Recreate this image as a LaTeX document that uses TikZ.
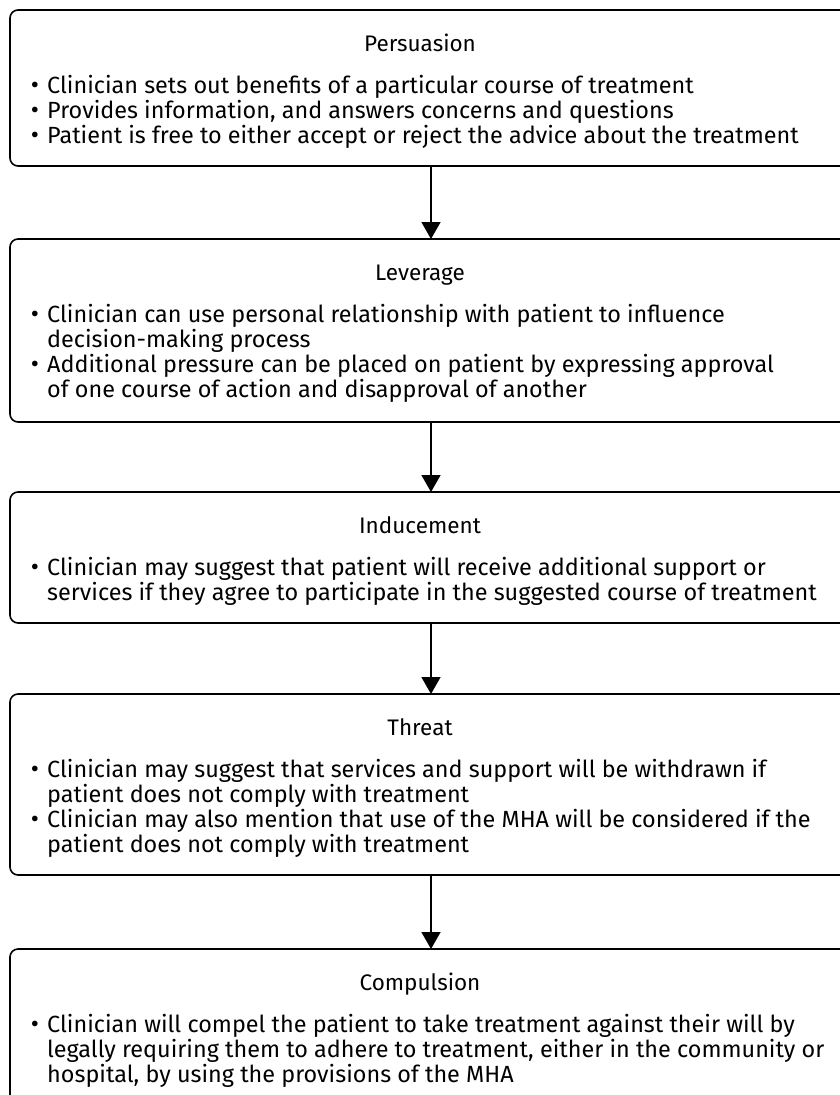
\documentclass[tikz,border=0pt]{standalone}
\usepackage{fontspec}
\setmainfont{Fira Sans}
\usetikzlibrary{arrows.meta}
\begin{document}
\begin{tikzpicture}[x=1pt,y=-1pt,
  box/.style={draw, line width=1.6pt, rounded corners=8pt, minimum width=842pt, anchor=north west, inner sep=0pt, outer sep=0pt},
  ttl/.style={anchor=base, inner sep=0pt, font=\fontsize{22.5}{25}\selectfont},
  txt/.style={anchor=base west, inner sep=0pt, font=\fontsize{23.4}{25}\selectfont},
  blt/.style={anchor=base, inner sep=0pt, font=\fontsize{25}{25}\selectfont},
  arr/.style={line width=1.6pt, -{Triangle[width=19pt,length=17pt]}}]
\clip (0,0) rectangle (840,1095);
\fill[white] (0,0) rectangle (840,1095);
\coordinate (ax) at (431,0);
% Boxes
\node[box, minimum height=156pt] (b1) at (10,10) {};
\node[box, minimum height=183pt] (b2) at (10,239) {};
\node[box, minimum height=131pt] (b3) at (10,492) {};
\node[box, minimum height=181pt] (b4) at (10,694) {};
\node[box, minimum height=160pt] (b5) at (10,949) {};
% Box 1
\node[ttl] (t1) at (420,51) {Persuasion};
\node[blt] (p11) at (35,93) {•};
\node[txt] (l11) at (47,93) {Clinician sets out benefits of a particular course of treatment};
\node[blt] (p12) at (35,118) {•};
\node[txt] (l12) at (47,118) {Provides information, and answers concerns and questions};
\node[blt] (p13) at (35,143) {•};
\node[txt] (l13) at (47,143) {Patient is free to either accept or reject the advice about the treatment};
% Box 2
\node[ttl] (t2) at (420,280) {Leverage};
\node[blt] (p21) at (35,322) {•};
\node[txt] (l21) at (47,322) {Clinician can use personal relationship with patient to influence};
\node[txt] (l22) at (47,347) {decision-making process};
\node[blt] (p22) at (35,372) {•};
\node[txt] (l23) at (47,372) {Additional pressure can be placed on patient by expressing approval};
\node[txt] (l24) at (47,397) {of one course of action and disapproval of another};
% Box 3
\node[ttl] (t3) at (420,533) {Inducement};
\node[blt] (p31) at (35,575) {•};
\node[txt] (l31) at (47,575) {Clinician may suggest that patient will receive additional support or};
\node[txt] (l32) at (47,600) {services if they agree to participate in the suggested course of treatment};
% Box 4
\node[ttl] (t4) at (420,735) {Threat};
\node[blt] (p41) at (35,777) {•};
\node[txt] (l41) at (47,777) {Clinician may suggest that services and support will be withdrawn if};
\node[txt] (l42) at (47,802) {patient does not comply with treatment};
\node[blt] (p42) at (35,827) {•};
\node[txt] (l43) at (47,827) {Clinician may also mention that use of the MHA will be considered if the};
\node[txt] (l44) at (47,852) {patient does not comply with treatment};
% Box 5
\node[ttl] (t5) at (420,990) {Compulsion};
\node[blt] (p51) at (35,1032) {•};
\node[txt] (l51) at (47,1032) {Clinician will compel the patient to take treatment against their will by};
\node[txt] (l52) at (47,1057) {legally requiring them to adhere to treatment, either in the community or};
\node[txt] (l53) at (47,1082) {hospital, by using the provisions of the MHA};
% Arrows
\draw[arr] (b1.south -| ax) -- (b2.north -| ax);
\draw[arr] (b2.south -| ax) -- (b3.north -| ax);
\draw[arr] (b3.south -| ax) -- (b4.north -| ax);
\draw[arr] (b4.south -| ax) -- (b5.north -| ax);
\end{tikzpicture}
\end{document}
